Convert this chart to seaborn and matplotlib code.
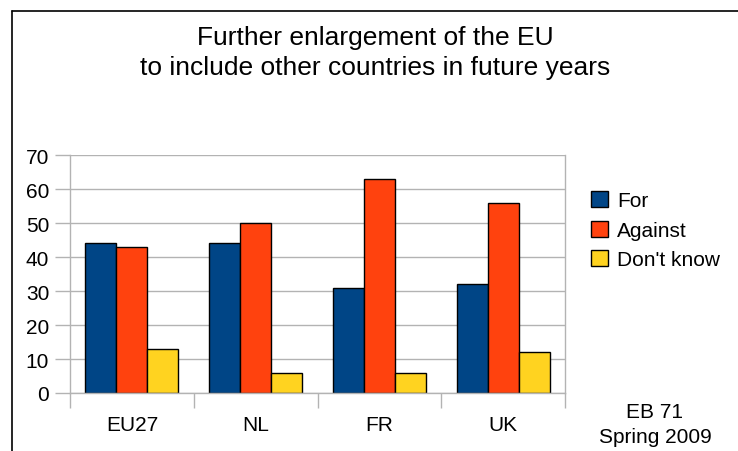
import matplotlib
matplotlib.use("Agg")
import matplotlib.pyplot as plt
from matplotlib.lines import Line2D
import numpy as np
import pandas as pd
import seaborn as sns

# Survey answers (%) per country
countries = ["EU27", "NL", "FR", "UK"]
answers = ["For", "Against", "Don't know"]
for_vals = [44, 44, 31, 32]
against_vals = [43, 50, 63, 56]
dontknow_vals = [13, 6, 6, 12]
colors = ["#004586", "#FF420E", "#FFD320"]
y_ticks = [0, 10, 20, 30, 40, 50, 60, 70]

df = pd.DataFrame({
    "country": countries * 3,
    "answer": [answers[0]] * 4 + [answers[1]] * 4 + [answers[2]] * 4,
    "value": for_vals + against_vals + dontknow_vals,
})

sns.set_theme(style="white")
plt.rcParams["font.family"] = ["Liberation Sans", "DejaVu Sans"]
plt.rcParams["text.color"] = "black"
plt.rcParams["xtick.labelcolor"] = "black"
plt.rcParams["ytick.labelcolor"] = "black"

W, H = 738, 452
fig = plt.figure(figsize=(W / 100, H / 100), dpi=100)
ax = fig.add_axes([70 / W, 1 - 394 / H, (565 - 70) / W, (394 - 156) / H])

sns.barplot(data=df, x="country", y="value", hue="answer", order=countries,
            hue_order=answers, palette=colors, width=0.75, gap=0,
            edgecolor="black", linewidth=1, saturation=1, ax=ax, legend=True)

ax.set_ylim(0, 70)
ax.set_xlim(-0.5, len(countries) - 0.5)
ax.set_yticks(y_ticks)
ax.set_yticklabels([str(v) for v in y_ticks], fontsize=15, color="black")
ax.set_xlabel("")
ax.set_ylabel("")
ax.yaxis.grid(True, color="#b3b3b3", linewidth=1)
ax.set_axisbelow(True)

# category labels at centres, separator ticks between groups
ax.set_xticks(range(len(countries)))
ax.set_xticklabels(countries, fontsize=15, color="black")
ax.set_xticks(np.arange(-0.5, len(countries), 1.0), minor=True)
ax.tick_params(axis="x", which="major", length=0, pad=16)
ax.tick_params(axis="x", which="minor", length=11, width=1, color="#b3b3b3",
               direction="out", bottom=True)
ax.tick_params(axis="y", length=11, width=1, color="#b3b3b3", direction="out",
               left=True, pad=4)
for side in ["left", "right", "bottom"]:
    ax.spines[side].set_color("#b3b3b3")
    ax.spines[side].set_linewidth(1)
ax.spines["top"].set_visible(False)

handles, labels = ax.get_legend_handles_labels()
leg = ax.legend(handles, labels, loc="upper left",
                bbox_to_anchor=(591 / W, 1 - 192 / H),
                bbox_transform=fig.transFigure, frameon=False, fontsize=15,
                handlelength=0.8, handleheight=0.8, handletextpad=0.45,
                labelspacing=0.5, borderpad=0, borderaxespad=0)
for t in leg.get_texts():
    t.set_color("black")

fig.text(375 / W, 1 - 38 / H, "Further enlargement of the EU", ha="center",
         va="center", fontsize=19)
fig.text(375 / W, 1 - 68 / H, "to include other countries in future years",
         ha="center", va="center", fontsize=19)
fig.text(655 / W, 1 - 413 / H, "EB 71", ha="center", va="center", fontsize=15)
fig.text(655 / W, 1 - 438 / H, "Spring 2009", ha="center", va="center", fontsize=15)

# frame around the page
fig.add_artist(Line2D([12.5 / W, 1], [1 - 11.5 / H, 1 - 11.5 / H],
                      transform=fig.transFigure, color="black", linewidth=1.2))
fig.add_artist(Line2D([12.5 / W, 12.5 / W], [0, 1 - 11.5 / H],
                      transform=fig.transFigure, color="black", linewidth=1.2))

fig.savefig("out.png", dpi=100)
